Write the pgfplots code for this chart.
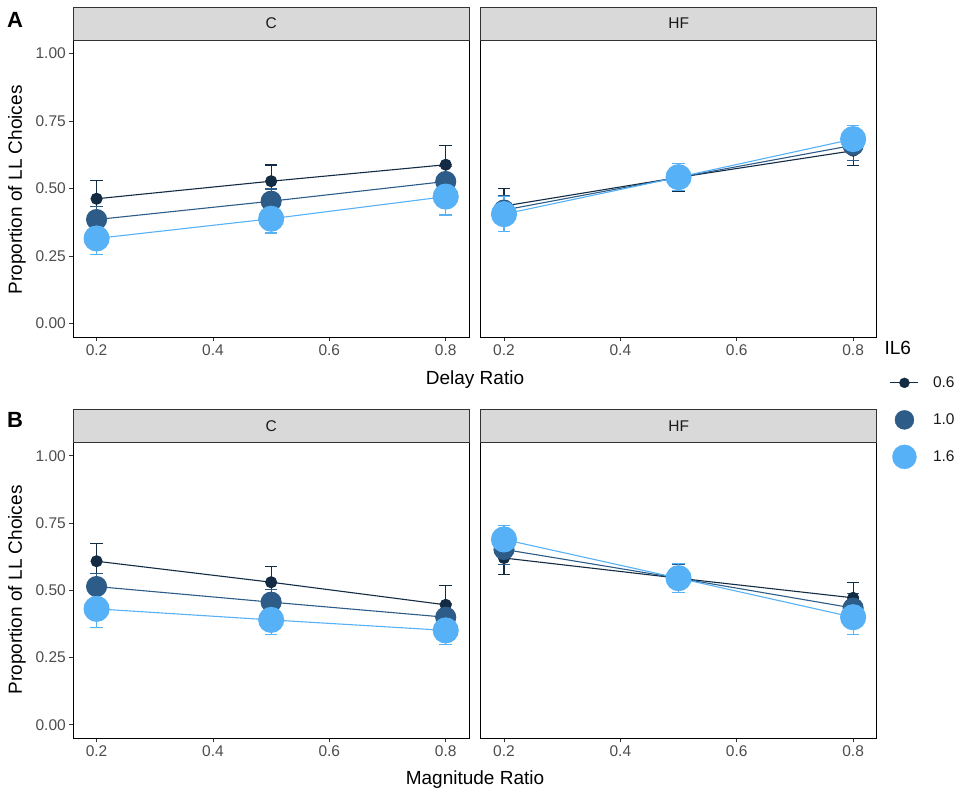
\documentclass[border=0pt]{standalone}
\usepackage{fontspec}
\setmainfont{Liberation Sans}
\usepackage{pgfplots}
\pgfplotsset{compat=1.18}
\definecolor{cdark}{HTML}{132B43}
\definecolor{cmed}{HTML}{2C5C87}
\definecolor{clight}{HTML}{56B1F7}
\definecolor{tickgray}{HTML}{4D4D4D}
\definecolor{stripgray}{HTML}{D9D9D9}
\definecolor{txt}{HTML}{1A1A1A}
\pgfplotsset{
  panel/.style={scale only axis, width=395.7pt,
    xmin=0.16, xmax=0.84, ymin=-0.05, ymax=1.05,
    xtick={0.2,0.4,0.6,0.8}, xticklabels={0.2,0.4,0.6,0.8},
    ytick={0,0.25,0.5,0.75,1}, yticklabels={0.00,0.25,0.50,0.75,1.00},
    tick align=outside, tick pos=left, major tick length=4pt,
    axis line style={line width=0.9pt, black},
    every tick/.style={line width=0.9pt, black!80},
    tick label style={font=\fontsize{15.5}{18}\selectfont, text=tickgray},
    /pgf/number format/assume math mode=true,
    clip=false},
  hfpanel/.style={panel, ytick=\empty},
  sdark/.style={cdark, line width=1.1pt, mark=*, mark size=5.5pt, mark options={fill=cdark, draw=cdark, solid}, forget plot},
  smed/.style={cmed, line width=1.1pt, mark=*, mark size=10pt, mark options={fill=cmed, draw=cmed, solid}, forget plot},
  slight/.style={clight, line width=1.1pt, mark=*, mark size=12.5pt, mark options={fill=clight, draw=clight, solid}, forget plot},
  eb/.style={#1, draw=none, mark=none, forget plot,
    error bars/.cd, y dir=both, y explicit,
    error bar style={draw=#1, line width=1.1pt},
    error mark=-, error mark options={draw=#1, line width=1.1pt, mark size=6.3pt, rotate=90}},
}
\begin{document}
\begin{tikzpicture}
\path[use as bounding box] (0,0) rectangle (968pt,798pt);

% ---------- Panel A, C ----------
\begin{axis}[panel, height=297pt, at={(73.3pt,461pt)}, anchor=south west]
\addplot[sdark] coordinates {(0.2,0.462) (0.5,0.527) (0.8,0.588)};
\addplot[smed] coordinates {(0.2,0.385) (0.5,0.453) (0.8,0.526)};
\addplot[slight] coordinates {(0.2,0.315) (0.5,0.388) (0.8,0.470)};
\addplot[eb=cdark] coordinates {(0.2,0.462) +- (0,0.068) (0.5,0.527) +- (0,0.060) (0.8,0.588) +- (0,0.070)};
\addplot[eb=cmed] coordinates {(0.2,0.385) +- (0,0.048) (0.5,0.453) +- (0,0.045) (0.8,0.526) +- (0,0.055)};
\addplot[eb=clight] coordinates {(0.2,0.315) +- (0,0.060) (0.5,0.388) +- (0,0.053) (0.8,0.470) +- (0,0.068)};
\end{axis}

% ---------- Panel A, HF ----------
\begin{axis}[hfpanel, height=297pt, at={(480.7pt,461pt)}, anchor=south west,
  legend style={at={(1.0336,-0.279)}, anchor=west, draw=none, fill=none, inner sep=0pt,
    font=\fontsize{15.5}{18}\selectfont, text=txt,
    nodes={minimum height=37pt, inner sep=0pt}, row sep=0pt, column sep=14pt},
  legend cell align=left]
\addplot[sdark] coordinates {(0.2,0.435) (0.5,0.541) (0.8,0.640)};
\addplot[smed] coordinates {(0.2,0.420) (0.5,0.541) (0.8,0.660)};
\addplot[slight] coordinates {(0.2,0.405) (0.5,0.542) (0.8,0.683)};
\addplot[eb=cdark] coordinates {(0.2,0.435) +- (0,0.065) (0.5,0.541) +- (0,0.052) (0.8,0.640) +- (0,0.056)};
\addplot[eb=cmed] coordinates {(0.2,0.420) +- (0,0.055) (0.5,0.541) +- (0,0.050) (0.8,0.660) +- (0,0.055)};
\addplot[eb=clight] coordinates {(0.2,0.405) +- (0,0.064) (0.5,0.542) +- (0,0.050) (0.8,0.683) +- (0,0.050)};
\addlegendimage{legend image code/.code={\draw[cdark,line width=1.1pt] (-1pt,0pt) -- (27pt,0pt); \fill[cdark] (13pt,0pt) circle (5pt);}}
\addlegendentry{0.6}
\addlegendimage{legend image code/.code={\fill[cmed] (13pt,0pt) circle (9.5pt);}}
\addlegendentry{1.0}
\addlegendimage{legend image code/.code={\fill[clight] (13pt,0pt) circle (12pt);}}
\addlegendentry{1.6}
\end{axis}

% ---------- Panel B, C ----------
\begin{axis}[panel, height=296pt, at={(73.3pt,59.7pt)}, anchor=south west]
\addplot[sdark] coordinates {(0.2,0.608) (0.5,0.530) (0.8,0.446)};
\addplot[smed] coordinates {(0.2,0.514) (0.5,0.456) (0.8,0.400)};
\addplot[slight] coordinates {(0.2,0.431) (0.5,0.390) (0.8,0.351)};
\addplot[eb=cdark] coordinates {(0.2,0.608) +- (0,0.067) (0.5,0.530) +- (0,0.059) (0.8,0.446) +- (0,0.072)};
\addplot[eb=cmed] coordinates {(0.2,0.514) +- (0,0.050) (0.5,0.456) +- (0,0.047) (0.8,0.400) +- (0,0.050)};
\addplot[eb=clight] coordinates {(0.2,0.431) +- (0,0.068) (0.5,0.390) +- (0,0.053) (0.8,0.351) +- (0,0.054)};
\end{axis}

% ---------- Panel B, HF ----------
\begin{axis}[hfpanel, height=296pt, at={(480.7pt,59.7pt)}, anchor=south west]
\addplot[sdark] coordinates {(0.2,0.620) (0.5,0.545) (0.8,0.472)};
\addplot[smed] coordinates {(0.2,0.652) (0.5,0.545) (0.8,0.434)};
\addplot[slight] coordinates {(0.2,0.689) (0.5,0.545) (0.8,0.400)};
\addplot[eb=cdark] coordinates {(0.2,0.620) +- (0,0.060) (0.5,0.545) +- (0,0.053) (0.8,0.472) +- (0,0.057)};
\addplot[eb=cmed] coordinates {(0.2,0.652) +- (0,0.055) (0.5,0.545) +- (0,0.052) (0.8,0.434) +- (0,0.055)};
\addplot[eb=clight] coordinates {(0.2,0.689) +- (0,0.052) (0.5,0.545) +- (0,0.053) (0.8,0.400) +- (0,0.064)};
\end{axis}

% ---------- strips ----------
\begin{scope}[line width=0.9pt]
\draw[fill=stripgray, draw=black!80] (73.3pt,758pt) rectangle (469pt,791pt);
\draw[fill=stripgray, draw=black!80] (480.7pt,758pt) rectangle (876.7pt,791pt);
\draw[fill=stripgray, draw=black!80] (73.3pt,355.7pt) rectangle (469pt,388.7pt);
\draw[fill=stripgray, draw=black!80] (480.7pt,355.7pt) rectangle (876.7pt,388.7pt);
\end{scope}
\begin{scope}[every node/.style={font=\fontsize{15.5}{18}\selectfont, text=txt}]
\node at (271.2pt,774.5pt) {C};
\node at (678.7pt,774.5pt) {HF};
\node at (271.2pt,372.2pt) {C};
\node at (678.7pt,372.2pt) {HF};
\end{scope}

% ---------- titles ----------
\begin{scope}[every node/.style={font=\fontsize{19}{22}\selectfont, text=black}]
\node at (475pt,418pt) {Delay Ratio};
\node at (475pt,18pt) {Magnitude Ratio};
\node[rotate=90] at (17pt,608pt) {Proportion of LL Choices};
\node[rotate=90] at (17pt,208pt) {Proportion of LL Choices};
\node[anchor=west] at (881pt,450pt) {IL6};
\end{scope}
\node[font=\fontsize{22}{26}\selectfont\bfseries] at (15pt,778pt) {A};
\node[font=\fontsize{22}{26}\selectfont\bfseries] at (15pt,378pt) {B};
\end{tikzpicture}
\end{document}
